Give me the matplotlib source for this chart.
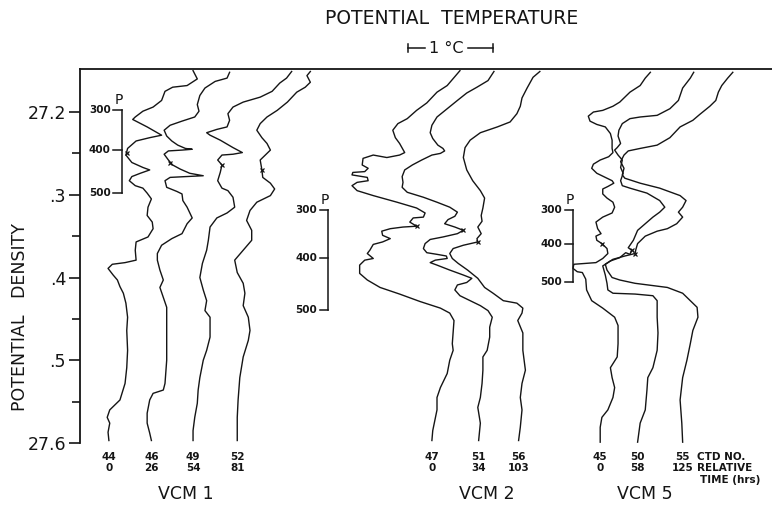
# -*- coding: utf-8 -*-
"""
Potential temperature / potential density profiles from repeated CTD casts
at three current meter moorings (VCM 1, VCM 2, VCM 5).
"""

import matplotlib
matplotlib.use('Agg')  # no display
import matplotlib.pyplot as plt

# Casts as (theta, sigma) pairs. theta in degC, each cast shifted sideways
# so the profiles sit next to each other; sigma is potential density.
CTD44 = [(1.33, 27.150), (1.38, 27.160), (1.26, 27.168), (1.09, 27.170), (1.00, 27.175),
         (0.96, 27.186), (0.86, 27.194), (0.74, 27.199), (0.65, 27.206), (0.62, 27.209),
         (0.79, 27.218), (0.96, 27.228), (0.82, 27.231), (0.66, 27.235), (0.56, 27.244),
         (0.54, 27.252), (0.61, 27.261), (0.74, 27.267), (0.82, 27.270), (0.71, 27.274),
         (0.61, 27.278), (0.58, 27.283), (0.65, 27.289), (0.74, 27.292), (0.79, 27.298),
         (0.84, 27.305), (0.80, 27.315), (0.79, 27.325), (0.85, 27.333), (0.86, 27.341),
         (0.80, 27.351), (0.66, 27.357), (0.65, 27.367), (0.66, 27.379), (0.53, 27.382),
         (0.38, 27.384), (0.33, 27.389), (0.39, 27.397), (0.44, 27.403), (0.47, 27.411),
         (0.51, 27.419), (0.54, 27.431), (0.56, 27.448), (0.55, 27.464), (0.56, 27.488),
         (0.55, 27.509), (0.53, 27.528), (0.47, 27.548), (0.35, 27.560), (0.32, 27.569),
         (0.35, 27.576), (0.33, 27.587), (0.34, 27.597)]

CTD46 = [(1.76, 27.152), (1.73, 27.159), (1.59, 27.163), (1.47, 27.171), (1.41, 27.180),
         (1.38, 27.191), (1.40, 27.199), (1.35, 27.206), (1.20, 27.211), (1.06, 27.216),
         (0.99, 27.222), (1.02, 27.229), (1.08, 27.235), (1.15, 27.240), (1.24, 27.244),
         (1.32, 27.245), (1.20, 27.246), (1.04, 27.247), (0.99, 27.251), (1.04, 27.258),
         (1.09, 27.264), (1.18, 27.269), (1.29, 27.274), (1.45, 27.277), (1.25, 27.278),
         (1.06, 27.279), (1.00, 27.283), (1.02, 27.291), (1.14, 27.296), (1.20, 27.299),
         (1.21, 27.307), (1.26, 27.315), (1.32, 27.328), (1.26, 27.335), (1.20, 27.347),
         (1.08, 27.353), (0.96, 27.361), (0.91, 27.371), (0.91, 27.379), (0.94, 27.391),
         (0.98, 27.403), (0.94, 27.412), (0.98, 27.424), (1.02, 27.436), (1.02, 27.467),
         (1.02, 27.500), (1.00, 27.528), (0.98, 27.536), (0.86, 27.540), (0.82, 27.548),
         (0.79, 27.564), (0.79, 27.576), (0.82, 27.588), (0.84, 27.597)]

CTD49 = [(2.49, 27.151), (2.43, 27.159), (2.35, 27.165), (2.26, 27.175), (2.12, 27.182),
         (1.92, 27.188), (1.80, 27.194), (1.74, 27.202), (1.76, 27.210), (1.73, 27.218),
         (1.61, 27.221), (1.49, 27.225), (1.53, 27.228), (1.65, 27.234), (1.80, 27.243),
         (1.91, 27.249), (1.80, 27.251), (1.67, 27.252), (1.62, 27.258), (1.67, 27.264),
         (1.65, 27.273), (1.62, 27.283), (1.67, 27.292), (1.74, 27.295), (1.80, 27.303),
         (1.82, 27.315), (1.73, 27.322), (1.61, 27.328), (1.53, 27.339), (1.51, 27.355),
         (1.49, 27.367), (1.44, 27.383), (1.41, 27.400), (1.45, 27.415), (1.49, 27.428),
         (1.47, 27.440), (1.53, 27.448), (1.53, 27.472), (1.49, 27.488), (1.45, 27.500),
         (1.41, 27.521), (1.39, 27.536), (1.38, 27.552), (1.35, 27.569), (1.33, 27.585),
         (1.33, 27.597)]

CTD52 = [(2.71, 27.151), (2.67, 27.156), (2.71, 27.164), (2.65, 27.170), (2.55, 27.176),
         (2.44, 27.188), (2.32, 27.198), (2.20, 27.206), (2.12, 27.214), (2.08, 27.222),
         (2.14, 27.231), (2.20, 27.238), (2.24, 27.246), (2.18, 27.252), (2.12, 27.258),
         (2.14, 27.270), (2.15, 27.279), (2.24, 27.286), (2.29, 27.293), (2.24, 27.301),
         (2.08, 27.309), (2.00, 27.319), (1.96, 27.331), (2.02, 27.343), (2.02, 27.355),
         (1.92, 27.367), (1.82, 27.379), (1.85, 27.394), (1.92, 27.407), (1.94, 27.419),
         (1.92, 27.434), (1.98, 27.448), (2.00, 27.464), (1.98, 27.476), (1.92, 27.496),
         (1.88, 27.521), (1.86, 27.548), (1.85, 27.569), (1.85, 27.597)]

CTD47 = [(4.47, 27.150), (4.32, 27.168), (4.20, 27.176), (4.08, 27.189), (3.96, 27.198),
         (3.85, 27.208), (3.74, 27.214), (3.68, 27.222), (3.71, 27.231), (3.76, 27.238),
         (3.82, 27.249), (3.76, 27.252), (3.61, 27.255), (3.45, 27.252), (3.33, 27.256),
         (3.32, 27.264), (3.39, 27.268), (3.35, 27.272), (3.21, 27.273), (3.20, 27.276),
         (3.38, 27.279), (3.39, 27.283), (3.26, 27.285), (3.20, 27.289), (3.26, 27.295),
         (3.45, 27.301), (3.73, 27.309), (3.96, 27.316), (4.06, 27.322), (4.04, 27.327),
         (3.92, 27.328), (3.88, 27.333), (3.96, 27.338), (3.80, 27.339), (3.65, 27.341),
         (3.55, 27.344), (3.56, 27.349), (3.65, 27.353), (3.56, 27.357), (3.45, 27.360),
         (3.41, 27.367), (3.38, 27.371), (3.45, 27.377), (3.35, 27.379), (3.29, 27.385),
         (3.29, 27.395), (3.38, 27.403), (3.53, 27.412), (3.76, 27.420), (4.00, 27.429),
         (4.24, 27.437), (4.35, 27.443), (4.40, 27.452), (4.39, 27.466), (4.38, 27.480),
         (4.39, 27.488), (4.35, 27.500), (4.32, 27.516), (4.24, 27.533), (4.20, 27.545),
         (4.20, 27.560), (4.15, 27.585), (4.14, 27.597)]

CTD51 = [(4.87, 27.151), (4.80, 27.162), (4.67, 27.170), (4.55, 27.177), (4.44, 27.186),
         (4.32, 27.196), (4.20, 27.206), (4.14, 27.216), (4.12, 27.225), (4.15, 27.232),
         (4.21, 27.240), (4.27, 27.244), (4.29, 27.247), (4.24, 27.250), (4.14, 27.252),
         (4.02, 27.258), (3.91, 27.264), (3.82, 27.270), (3.79, 27.278), (3.80, 27.285),
         (3.79, 27.291), (3.85, 27.297), (4.04, 27.303), (4.20, 27.309), (4.35, 27.315),
         (4.44, 27.321), (4.41, 27.326), (4.33, 27.330), (4.29, 27.335), (4.41, 27.339),
         (4.51, 27.343), (4.44, 27.347), (4.27, 27.351), (4.12, 27.354), (4.06, 27.359),
         (4.04, 27.365), (4.08, 27.370), (4.20, 27.372), (4.31, 27.374), (4.32, 27.377),
         (4.18, 27.379), (4.12, 27.382), (4.20, 27.385), (4.35, 27.391), (4.51, 27.397),
         (4.61, 27.401), (4.55, 27.406), (4.44, 27.409), (4.41, 27.415), (4.47, 27.422),
         (4.59, 27.428), (4.71, 27.434), (4.80, 27.440), (4.85, 27.448), (4.82, 27.460),
         (4.82, 27.472), (4.79, 27.488), (4.74, 27.496), (4.74, 27.512), (4.73, 27.528),
         (4.71, 27.545), (4.68, 27.557), (4.71, 27.576), (4.69, 27.597)]

CTD56 = [(5.41, 27.151), (5.33, 27.158), (5.26, 27.171), (5.20, 27.183), (5.18, 27.193),
         (5.14, 27.202), (5.06, 27.212), (4.91, 27.218), (4.71, 27.225), (4.59, 27.234),
         (4.53, 27.243), (4.51, 27.255), (4.55, 27.270), (4.62, 27.283), (4.71, 27.295),
         (4.76, 27.304), (4.74, 27.316), (4.72, 27.325), (4.73, 27.332), (4.68, 27.339),
         (4.72, 27.347), (4.67, 27.353), (4.68, 27.357), (4.51, 27.361), (4.39, 27.365),
         (4.35, 27.371), (4.38, 27.377), (4.45, 27.383), (4.56, 27.391), (4.68, 27.401),
         (4.76, 27.412), (4.86, 27.419), (4.98, 27.428), (5.14, 27.431), (5.21, 27.437),
         (5.20, 27.443), (5.15, 27.452), (5.21, 27.467), (5.21, 27.488), (5.24, 27.512),
         (5.20, 27.528), (5.18, 27.545), (5.20, 27.560), (5.18, 27.581), (5.16, 27.597)]

CTD45 = [(6.71, 27.152), (6.65, 27.159), (6.59, 27.168), (6.47, 27.176), (6.35, 27.188),
         (6.27, 27.193), (6.15, 27.198), (6.04, 27.200), (5.98, 27.205), (6.00, 27.211),
         (6.08, 27.215), (6.18, 27.218), (6.24, 27.226), (6.26, 27.234), (6.26, 27.244),
         (6.27, 27.249), (6.22, 27.254), (6.12, 27.258), (6.04, 27.263), (6.02, 27.268),
         (6.08, 27.274), (6.18, 27.279), (6.26, 27.283), (6.28, 27.286), (6.21, 27.290),
         (6.15, 27.293), (6.15, 27.299), (6.20, 27.304), (6.27, 27.309), (6.29, 27.315),
         (6.26, 27.322), (6.15, 27.327), (6.07, 27.333), (6.09, 27.341), (6.13, 27.347),
         (6.07, 27.350), (6.08, 27.355), (6.14, 27.359), (6.20, 27.365), (6.21, 27.371),
         (6.15, 27.377), (6.07, 27.382), (5.94, 27.383), (5.81, 27.384), (5.80, 27.389),
         (5.85, 27.393), (5.91, 27.394), (5.95, 27.402), (5.96, 27.415), (6.02, 27.428),
         (6.15, 27.437), (6.29, 27.448), (6.33, 27.458), (6.33, 27.480), (6.32, 27.496),
         (6.24, 27.509), (6.26, 27.521), (6.29, 27.533), (6.27, 27.545), (6.21, 27.560),
         (6.14, 27.569), (6.12, 27.581), (6.12, 27.599)]

CTD50 = [(7.22, 27.152), (7.18, 27.159), (7.09, 27.171), (7.04, 27.186), (6.94, 27.196),
         (6.79, 27.204), (6.59, 27.206), (6.47, 27.208), (6.38, 27.214), (6.34, 27.222),
         (6.33, 27.229), (6.36, 27.238), (6.32, 27.243), (6.29, 27.246), (6.33, 27.252),
         (6.38, 27.258), (6.36, 27.267), (6.39, 27.274), (6.36, 27.283), (6.38, 27.289),
         (6.47, 27.292), (6.67, 27.298), (6.82, 27.307), (6.88, 27.315), (6.82, 27.321),
         (6.74, 27.327), (6.65, 27.335), (6.56, 27.343), (6.51, 27.355), (6.45, 27.364),
         (6.49, 27.367), (6.47, 27.372), (6.42, 27.370), (6.35, 27.376), (6.24, 27.380),
         (6.15, 27.386), (6.18, 27.397), (6.20, 27.407), (6.21, 27.415), (6.27, 27.419),
         (6.53, 27.420), (6.74, 27.422), (6.79, 27.428), (6.79, 27.448), (6.80, 27.467),
         (6.79, 27.488), (6.74, 27.509), (6.68, 27.521), (6.67, 27.536), (6.65, 27.560),
         (6.59, 27.576), (6.56, 27.599)]

CTD55 = [(7.68, 27.152), (7.62, 27.159), (7.55, 27.168), (7.51, 27.176), (7.48, 27.186),
         (7.41, 27.193), (7.29, 27.203), (7.21, 27.210), (7.06, 27.218), (6.94, 27.231),
         (6.79, 27.240), (6.59, 27.244), (6.45, 27.247), (6.40, 27.252), (6.36, 27.260),
         (6.40, 27.268), (6.38, 27.276), (6.41, 27.280), (6.59, 27.286), (6.82, 27.292),
         (7.06, 27.301), (7.13, 27.307), (7.09, 27.315), (7.04, 27.321), (7.09, 27.327),
         (7.02, 27.335), (6.91, 27.341), (6.79, 27.344), (6.65, 27.350), (6.56, 27.359),
         (6.54, 27.366), (6.53, 27.371), (6.41, 27.374), (6.27, 27.378), (6.18, 27.384),
         (6.20, 27.391), (6.26, 27.400), (6.35, 27.403), (6.53, 27.407), (6.91, 27.412),
         (7.09, 27.419), (7.26, 27.436), (7.27, 27.448), (7.21, 27.464), (7.18, 27.480),
         (7.14, 27.500), (7.09, 27.521), (7.06, 27.548), (7.08, 27.576), (7.09, 27.599)]

# casts grouped by mooring, with hours since the first cast
VCM1_CASTS = ['44', '46', '49', '52']
VCM1_HOURS = ['0', '26', '54', '81']
VCM2_CASTS = ['47', '51', '56']
VCM2_HOURS = ['0', '34', '103']
VCM5_CASTS = ['45', '50', '55']
VCM5_HOURS = ['0', '58', '125']

PROFILES = {'44': CTD44, '46': CTD46, '49': CTD49, '52': CTD52,
            '47': CTD47, '51': CTD51, '56': CTD56,
            '45': CTD45, '50': CTD50, '55': CTD55}

# current meter level marked on each cast (theta, sigma)
METER_MARKS = {'44': (0.55, 27.250), '46': (1.06, 27.261), '49': (1.67, 27.264),
               '52': (2.14, 27.270), '47': (3.96, 27.338), '51': (4.51, 27.343),
               '56': (4.68, 27.357), '45': (6.14, 27.359), '50': (6.49, 27.367),
               '55': (6.53, 27.371)}

# pressure (dbar) scale for each mooring: sigma of 300/400/500 dbar
PRESS_LEVELS = [300, 400, 500]
VCM1_PRESS_SIGMA = [27.198, 27.246, 27.298]
VCM2_PRESS_SIGMA = [27.319, 27.376, 27.439]
VCM5_PRESS_SIGMA = [27.319, 27.360, 27.406]

SIGMA_TICKS = [27.2, 27.3, 27.4, 27.5, 27.6]
SIGMA_LABELS = ['27.2', '.3', '.4', '.5', '27.6']
SIGMA_MINOR = [27.25, 27.35, 27.45, 27.55]

INK = '#151515'

plt.rcParams['font.family'] = ['DejaVu Sans']

fig = plt.figure(figsize=(7.72, 5.05), dpi=100)
ax = fig.add_axes([80 / 772, 62 / 505, 692 / 772, 374 / 505])

# profiles
for casts in (VCM1_CASTS, VCM2_CASTS, VCM5_CASTS):
    for c in casts:
        th = [p[0] for p in PROFILES[c]]
        sg = [p[1] for p in PROFILES[c]]
        ax.plot(th, sg, color=INK, lw=1.0, solid_joinstyle='round')
        mx, my = METER_MARKS[c]
        ax.plot(mx, my, marker='x', ms=3.5, mew=0.9, color=INK)

ax.set_xlim(0, 692 / 85)
ax.set_ylim(27.6, 27.148)

# axes: only the density axis on the left and a line along the top
for side in ('right', 'bottom'):
    ax.spines[side].set_visible(False)
for side in ('left', 'top'):
    ax.spines[side].set_linewidth(1.3)
    ax.spines[side].set_color(INK)
ax.set_xticks([])
ax.set_yticks(SIGMA_TICKS)
ax.set_yticklabels(SIGMA_LABELS, fontsize=12.5, color=INK)
ax.set_yticks(SIGMA_MINOR, minor=True)
ax.tick_params(axis='y', which='major', length=8, width=1.2, pad=2, color=INK)
ax.tick_params(axis='y', which='minor', length=6, width=1.2, color=INK)

# pressure bars
for x_bar, sig in ((0.49, VCM1_PRESS_SIGMA), (2.92, VCM2_PRESS_SIGMA),
                   (5.80, VCM5_PRESS_SIGMA)):
    ax.plot([x_bar, x_bar], [sig[0], sig[-1]], color=INK, lw=1.1)
    for p, s in zip(PRESS_LEVELS, sig):
        ax.plot([x_bar - 0.1, x_bar], [s, s], color=INK, lw=1.1)
        ax.text(x_bar - 0.13, s, str(p), ha='right', va='center',
                fontsize=7.5, fontweight='bold', color=INK)
    ax.text(x_bar - 0.035, sig[0] - 0.004, 'P', ha='center', va='bottom',
            fontsize=10, color=INK)

# cast numbers and relative times under each profile
xt = ax.get_xaxis_transform()
for casts, hours in ((VCM1_CASTS, VCM1_HOURS), (VCM2_CASTS, VCM2_HOURS),
                     (VCM5_CASTS, VCM5_HOURS)):
    for c, h in zip(casts, hours):
        x_end = PROFILES[c][-1][0]
        ax.text(x_end, -0.037, c, transform=xt, ha='center', va='center',
                fontsize=7.5, fontweight='bold', color=INK)
        ax.text(x_end, -0.067, h, transform=xt, ha='center', va='center',
                fontsize=7.5, fontweight='bold', color=INK)

ax.text(7.26, -0.037, 'CTD NO.', transform=xt, ha='left', va='center',
        fontsize=7.5, fontweight='bold', color=INK)
ax.text(7.26, -0.067, 'RELATIVE', transform=xt, ha='left', va='center',
        fontsize=7.5, fontweight='bold', color=INK)
ax.text(7.30, -0.099, 'TIME (hrs)', transform=xt, ha='left', va='center',
        fontsize=7.5, fontweight='bold', color=INK)

for name, xc in (('VCM 1', 1.24), ('VCM 2', 4.79), ('VCM 5', 6.65)):
    ax.text(xc, -0.136, name, transform=xt, ha='center', va='center',
            fontsize=12.5, color=INK)

# 1 degC scale bar above the plot
x0 = 3.86
y_bar = 1.056
ax.plot([x0, x0 + 0.2], [y_bar, y_bar], transform=xt, clip_on=False, color=INK, lw=1.1)
ax.plot([x0 + 0.71, x0 + 1.0], [y_bar, y_bar], transform=xt, clip_on=False, color=INK, lw=1.1)
for xe in (x0, x0 + 1.0):
    ax.plot([xe, xe], [y_bar - 0.01, y_bar + 0.01], transform=xt, clip_on=False,
            color=INK, lw=1.1)
ax.text(x0 + 0.45, y_bar, '1 °C', transform=xt, ha='center', va='center',
        fontsize=11.5, color=INK)

fig.text(325 / 772, 1 - 18 / 505, 'POTENTIAL  TEMPERATURE', ha='left', va='center',
         fontsize=13.5, color=INK)
fig.text(20 / 772, 1 - 317 / 505, 'POTENTIAL   DENSITY', rotation=90,
         ha='center', va='center', fontsize=12.5, color=INK)

fig.savefig('out.png', dpi=100, facecolor='white')
plt.close(fig)
